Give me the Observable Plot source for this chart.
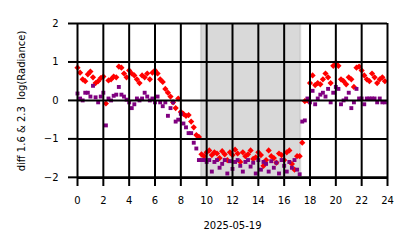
<!DOCTYPE html>
<html>
<head>
<meta charset="utf-8">
<script src="https://cdn.jsdelivr.net/npm/d3@7"></script>
<script src="https://cdn.jsdelivr.net/npm/@observablehq/plot@0.6"></script>
<style>
  html, body { margin: 0; padding: 0; background: #fff; }
  #chart svg { display: block; }
  #chart g[aria-label="x-axis tick"], #chart g[aria-label="y-axis tick"] { stroke-width: 2px; }
</style>
</head>
<body>
<div id="chart"></div>
<script>
// Hours of day (UTC), sampled every 0.2 h
const hours = [
  0.0,0.2,0.4,0.6,0.8,1.0,1.2,1.4,1.6,1.8,2.0,2.2,2.4,2.6,2.8,3.0,3.2,3.4,3.6,3.8,
  4.0,4.2,4.4,4.6,4.8,5.0,5.2,5.4,5.6,5.8,6.0,6.2,6.4,6.6,6.8,7.0,7.2,7.4,7.6,7.8,
  8.0,8.2,8.4,8.6,8.8,9.0,9.2,9.4,9.6,9.8,10.0,10.2,10.4,10.6,10.8,11.0,11.2,11.4,11.6,11.8,
  12.0,12.2,12.4,12.6,12.8,13.0,13.2,13.4,13.6,13.8,14.0,14.2,14.4,14.6,14.8,15.0,15.2,15.4,15.6,15.8,
  16.0,16.2,16.4,16.6,16.8,17.0,17.2,17.4,17.6,17.8,18.0,18.2,18.4,18.6,18.8,19.0,19.2,19.4,19.6,19.8,
  20.0,20.2,20.4,20.6,20.8,21.0,21.2,21.4,21.6,21.8,22.0,22.2,22.4,22.6,22.8,23.0,23.2,23.4,23.6,23.8
];
// diff 1.6 log(Radiance) (red diamonds)
const diff16 = [
  0.85,0.72,0.55,0.50,0.68,0.75,0.60,0.45,0.50,0.58,0.62,-0.08,0.52,0.55,0.62,0.60,0.88,0.85,0.70,0.60,
  0.78,0.70,0.65,0.55,0.45,0.65,0.60,0.70,0.55,0.72,0.78,0.70,0.55,0.48,0.30,0.20,0.10,-0.05,-0.20,0.05,
  -0.30,-0.35,-0.40,-0.38,-0.55,-0.70,-0.90,-0.95,-1.40,-1.45,-1.35,-1.30,-1.42,-1.35,-1.38,-1.50,-1.32,-1.40,-1.55,-1.35,
  -1.42,-1.28,-1.38,-1.60,-1.35,-1.45,-1.40,-1.30,-1.52,-1.48,-1.35,-1.42,-1.70,-1.55,-1.30,-1.45,-1.50,-1.62,-1.38,-1.42,
  -1.55,-1.35,-1.30,-1.65,-1.80,-1.45,-1.45,-1.10,-0.02,0.00,0.45,0.65,0.40,0.45,0.42,0.55,0.70,0.60,0.45,0.90,
  0.98,0.90,0.55,0.50,0.42,0.60,0.55,0.35,0.85,0.88,0.78,0.65,0.55,0.50,0.70,0.60,0.45,0.55,0.60,0.50
];
// diff 2.3 log(Radiance) (purple squares)
const diff23 = [
  0.18,0.05,0.00,0.20,0.20,0.10,0.38,0.08,-0.05,0.10,0.20,-0.65,0.05,0.00,0.12,0.15,0.35,0.15,0.10,0.02,
  -0.05,-0.20,-0.10,0.05,0.00,0.05,0.20,0.10,0.00,0.05,-0.05,0.10,-0.05,-0.15,-0.05,-0.40,-0.20,-0.05,-0.55,-0.50,
  -0.35,-0.60,-0.70,-0.85,-0.85,-1.10,-1.25,-1.55,-1.55,-1.55,-1.60,-1.55,-1.85,-1.60,-1.55,-1.75,-1.65,-1.55,-1.90,-1.58,
  -1.78,-1.60,-1.55,-1.70,-1.85,-1.60,-1.55,-1.72,-1.62,-1.90,-1.55,-1.80,-1.60,-1.65,-1.85,-1.58,-1.75,-1.62,-1.90,-1.55,
  -1.70,-1.85,-1.60,-1.75,-1.55,-1.80,-1.92,-0.55,-0.52,0.05,-0.05,0.25,-0.10,0.05,0.15,0.20,0.10,0.30,-0.05,0.20,
  0.35,0.30,-0.10,0.00,0.05,0.20,-0.20,-0.05,0.30,0.05,0.05,-0.10,0.05,0.05,0.05,0.05,-0.05,0.05,-0.05,-0.05
];
// Shaded interval, hours
const shadeStart = [9.6];
const shadeEnd = [17.28];
const xTicks = [0,2,4,6,8,10,12,14,16,18,20,22,24];
const yTicks = [-2,-1,0,1,2];
const xLabel = "2025-05-19";
const yLabel = "diff 1.6 & 2.3  log(Radiance)";

const red = hours.map((h, i) => ({h, v: diff16[i]}));
const purple = hours.map((h, i) => ({h, v: diff23[i]}));
const shade = shadeStart.map((s, i) => ({x1: s, x2: shadeEnd[i]}));
const intFmt = d => (d < 0 ? "\u2212" : "") + Math.abs(d);

const plot = Plot.plot({
  width: 414,
  height: 248,
  marginLeft: 77,
  marginRight: 27,
  marginTop: 23,
  marginBottom: 70,
  style: {fontFamily: "DejaVu Sans", fontSize: "10px", color: "black", background: "white", whiteSpace: "pre"},
  x: {domain: [0, 24], ticks: xTicks, tickFormat: intFmt, tickSize: 8, tickPadding: 10, label: xLabel, labelAnchor: "center", labelArrow: "none", labelOffset: 50},
  y: {domain: [-2.03, 2], ticks: yTicks, tickFormat: intFmt, tickSize: 9, tickPadding: 10, label: yLabel, labelAnchor: "center", labelArrow: "none", labelOffset: 60},
  marks: [
    Plot.rect(shade, {x1: "x1", x2: "x2", fill: "#d9d9d9"}),
    Plot.rect(shade, {x1: d => d.x1 - 0.08, x2: d => d.x1 + 0.08, fill: "#c4c4c4", fillOpacity: 0.6}),
    Plot.rect(shade, {x1: d => d.x2 - 0.08, x2: d => d.x2 + 0.08, fill: "#c4c4c4", fillOpacity: 0.6}),
    Plot.dot(red, {x: "h", y: "v", symbol: "diamond2", r: 2.8, fill: "red", stroke: "none"}),
    Plot.dot(purple, {x: "h", y: "v", symbol: "square", r: 2.2, fill: "purple", stroke: "none"}),
    Plot.gridX(xTicks, {stroke: "black", strokeOpacity: 1, strokeWidth: 2}),
    Plot.gridY(yTicks, {stroke: "black", strokeOpacity: 1, strokeWidth: 2}),
    Plot.frame({stroke: "black", strokeWidth: 1})
  ]
});
document.getElementById("chart").appendChild(plot);
</script>
</body>
</html>
